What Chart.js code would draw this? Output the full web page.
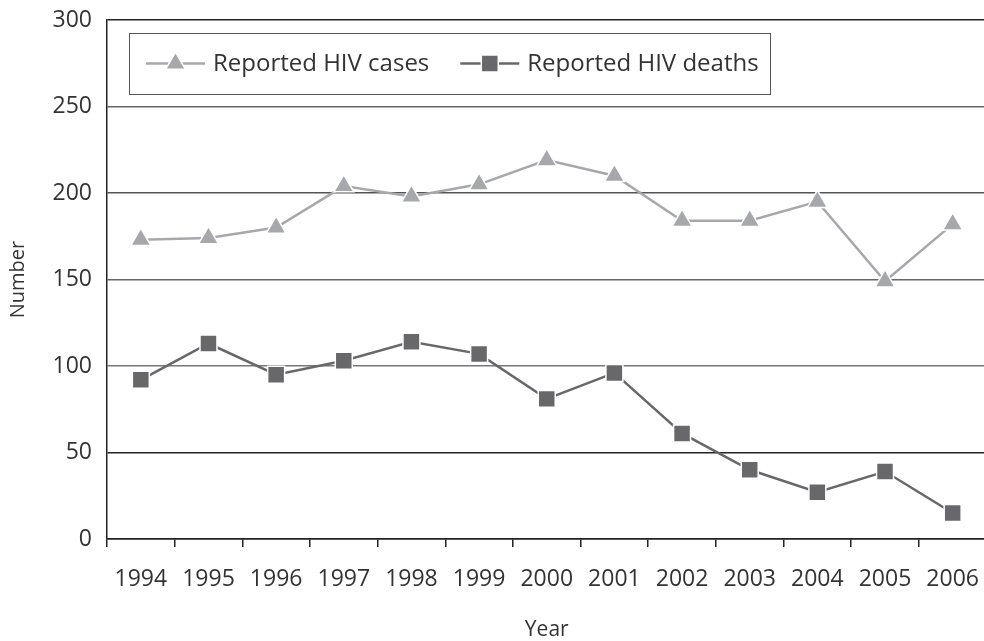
<!DOCTYPE html>
<html>
<head>
<meta charset="utf-8">
<script src="https://cdn.jsdelivr.net/npm/chart.js@4/dist/chart.umd.min.js"></script>
<style>
  html, body { margin: 0; padding: 0; background: #fff; overflow: hidden; }
  #wrap { width: 984px; height: 641px; position: relative; overflow: hidden; }
</style>
</head>
<body>
<div id="wrap"><canvas id="c" width="1000" height="641"></canvas></div>
<script>
// ---- data ----
const years = ['1994','1995','1996','1997','1998','1999','2000','2001','2002','2003','2004','2005','2006'];
const reportedCases  = [173, 174, 180, 204, 198, 205, 219, 210, 184, 184, 195, 149, 182];
const reportedDeaths = [92, 113, 95, 103, 114, 107, 81, 96, 61, 40, 27, 39, 15];
const seriesNames = ['Reported HIV cases', 'Reported HIV deaths'];
const yTicks = [0, 50, 100, 150, 200, 250, 300];
const axisTitles = { x: 'Year', y: 'Number' };

const FONT = "'Open Sans', 'Liberation Sans', sans-serif";
const TEXT = '#333333';
const gridColors = ['#222222', '#222222', '#777777', '#666666', '#555555', '#666666', '#222222'];

const legendPlugin = {
  id: 'boxLegend',
  afterDraw(chart, args, opts) {
    const ctx = chart.ctx;
    ctx.save();
    ctx.fillStyle = '#ffffff';
    ctx.fillRect(opts.left, opts.top, opts.width, opts.height);
    ctx.strokeStyle = '#555555';
    ctx.lineWidth = 1;
    ctx.strokeRect(opts.left + 0.5, opts.top + 0.5, opts.width, opts.height);
    const cy = opts.top + opts.height / 2;
    let x = opts.startX;
    ctx.font = opts.font;
    ctx.textBaseline = 'middle';
    chart.data.datasets.forEach((ds) => {
      ctx.strokeStyle = ds.borderColor;
      ctx.lineWidth = ds.borderWidth;
      ctx.beginPath();
      ctx.moveTo(x, cy);
      ctx.lineTo(x + opts.lineLen, cy);
      ctx.stroke();
      ctx.fillStyle = ds.pointBackgroundColor;
      ctx.strokeStyle = '#ffffff';
      ctx.lineWidth = 1.5;
      Chart.helpers.drawPoint(ctx, {
        pointStyle: ds.pointStyle, radius: ds.pointRadius, rotation: 0, borderWidth: 1.5
      }, x + opts.lineLen / 2, cy);
      x += opts.lineLen + opts.textGap;
      ctx.fillStyle = TEXT;
      ctx.fillText(ds.label, x, cy + 1);
      x += ctx.measureText(ds.label).width + opts.itemGap;
    });
    ctx.restore();
  }
};

new Chart(document.getElementById('c'), {
  type: 'line',
  data: {
    labels: years,
    datasets: [
      {
        label: seriesNames[0],
        data: reportedCases,
        borderColor: '#a7a8ab',
        backgroundColor: '#a7a8ab',
        pointBackgroundColor: '#a7a8ab',
        pointBorderColor: '#ffffff',
        pointBorderWidth: 1.5,
        borderWidth: 2.5,
        pointStyle: 'triangle',
        pointRadius: 11.5,
        tension: 0
      },
      {
        label: seriesNames[1],
        data: reportedDeaths,
        borderColor: '#68686b',
        backgroundColor: '#68686b',
        pointBackgroundColor: '#68686b',
        pointBorderColor: '#ffffff',
        pointBorderWidth: 1.5,
        borderWidth: 2.5,
        pointStyle: 'rect',
        pointRadius: 12,
        tension: 0
      }
    ]
  },
  options: {
    responsive: false,
    animation: false,
    layout: { padding: { top: 20, right: 0, left: 0, bottom: 0 } },
    plugins: {
      legend: { display: false },
      tooltip: { enabled: false },
      boxLegend: {
        left: 129, top: 33, width: 641, height: 61,
        startX: 146, lineLen: 59, textGap: 8, itemGap: 31,
        font: "24px " + FONT
      }
    },
    scales: {
      x: {
        offset: true,
        grid: {
          offset: true, drawOnChartArea: false, drawTicks: true,
          tickLength: 8, color: '#222222', lineWidth: 1.5
        },
        border: { color: '#222222', width: 1.5 },
        ticks: { color: TEXT, font: { family: FONT, size: 23 }, padding: 19, maxRotation: 0, autoSkip: false },
        title: { display: true, text: axisTitles.x, color: TEXT, font: { family: FONT, size: 21, lineHeight: 1.0 }, padding: { top: 0, bottom: 0 } },
        afterFit(scale) { scale.height = 102; scale.paddingLeft = 0; scale.paddingRight = 0; }
      },
      y: {
        min: yTicks[0],
        max: yTicks[yTicks.length - 1],
        afterBuildTicks(scale) { scale.ticks = yTicks.map(v => ({ value: v })); },
        grid: {
          drawTicks: false,
          color: (c) => gridColors[c.index] || '#666666',
          lineWidth: 1.5
        },
        border: { color: '#222222', width: 1.5 },
        ticks: { color: TEXT, font: { family: FONT, size: 23 }, padding: 15 },
        title: { display: true, text: axisTitles.y, color: TEXT, font: { family: FONT, size: 20 }, padding: { top: 6, bottom: 0 } },
        afterFit(scale) { scale.width = 107; scale.paddingTop = 0; scale.paddingBottom = 0; }
      }
    }
  },
  plugins: [legendPlugin]
});
</script>
</body>
</html>
